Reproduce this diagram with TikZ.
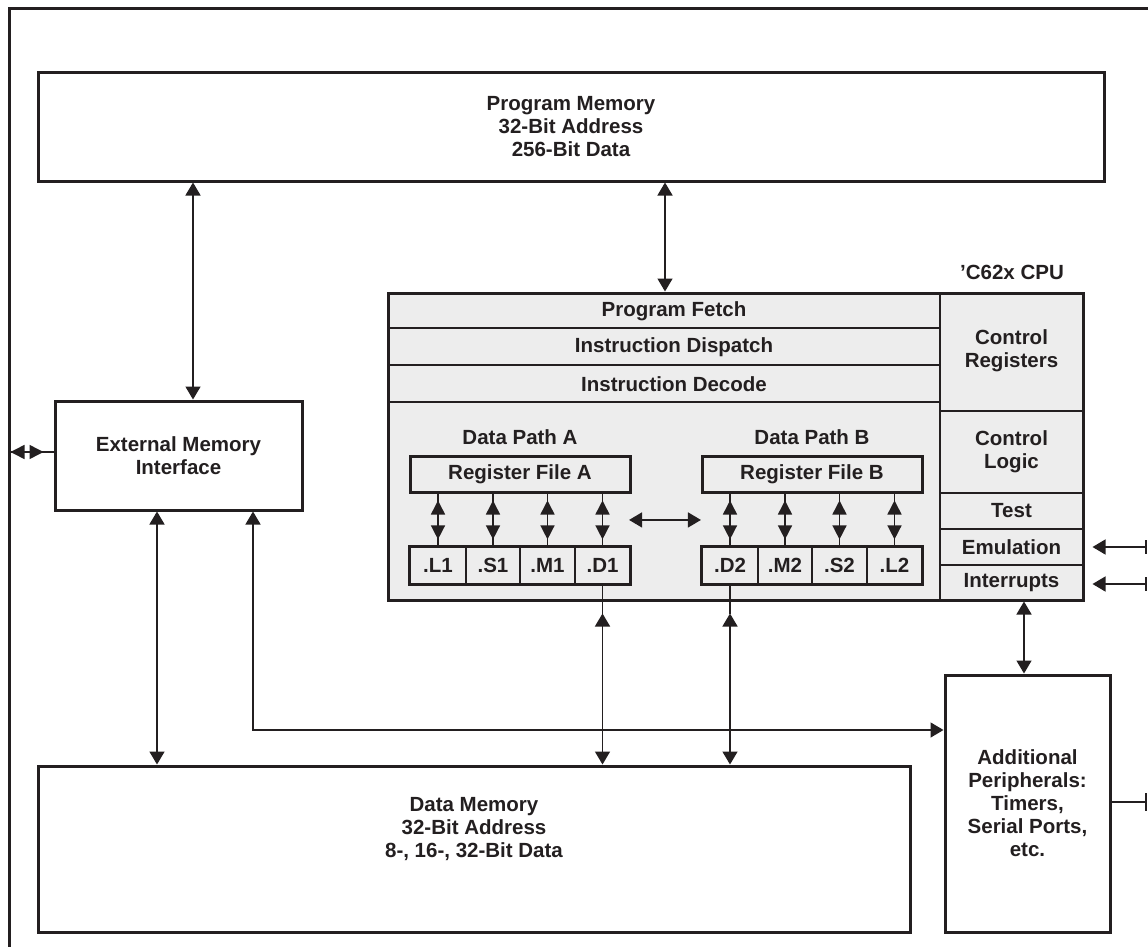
\documentclass[tikz,border=0pt]{standalone}
\usepackage{fontspec}
\setmainfont{Liberation Sans}
\usetikzlibrary{arrows.meta,calc}
\definecolor{ink}{HTML}{231F20}
\definecolor{cpufill}{HTML}{EDEDED}
\begin{document}
\begin{tikzpicture}[x=1pt,y=-1pt, line join=miter,
 txt/.style={font=\fontsize{20.5}{23}\selectfont\bfseries, text=ink, align=center, inner sep=0pt},
 box/.style={draw=ink, line width=3pt, inner sep=0pt, txt},
 cell/.style={draw=ink, line width=1.2pt, inner sep=0pt, txt, minimum height=37pt},
 divider/.style={draw=ink, line width=1.2pt},
 conn/.style={draw=ink, line width=1.5pt},
 tip/.style={-{Triangle[length=13pt,width=15pt]}},
 dbl/.style={{Triangle[length=13pt,width=15pt]}-{Triangle[length=13pt,width=15pt]}},
 sdbl/.style={{Triangle[length=14pt,width=14pt]}-{Triangle[length=14pt,width=14pt]}},
 tick/.style={draw=ink, line width=2pt}
]
\useasboundingbox (0,0) rectangle (1148,947);
\fill[white] (0,0) rectangle (1148,947);
\draw[ink, line width=3pt] (9,947) -- (9,9) -- (1148,9);

% main boxes
\node[box, minimum width=1066pt, minimum height=108pt] (PM) at (571,127) {Program Memory\\32-Bit Address\\256-Bit Data};
\node[box, minimum width=247pt, minimum height=109pt] (EMI) at (178.5,455.5) {External Memory\\Interface};
\node[box, fill=cpufill, minimum width=695pt, minimum height=307pt] (CPU) at (735.5,446.5) {};
\node[box, minimum width=872pt, minimum height=166pt] (DM) at (474,849) {};
\node[txt] (DMtext) at (474,829) {Data Memory\\32-Bit Address\\8-, 16-, 32-Bit Data};
\node[box, minimum width=165pt, minimum height=257pt] (AP) at (1027.5,803.5) {Additional\\Peripherals:\\Timers,\\Serial Ports,\\etc.};
\node[txt] (cpulabel) at (1012,272) {’C62x CPU};

% CPU internal dividers
\draw[divider] (940,293) -- (940,600);
\draw[divider] (388,328) -- (940,328);
\draw[divider] (388,365) -- (940,365);
\draw[divider] (388,402) -- (940,402);
\draw[divider] (940,411) -- (1083,411);
\draw[divider] (940,493) -- (1083,493);
\draw[divider] (940,529) -- (1083,529);
\draw[divider] (940,565) -- (1083,565);

\node[txt] (pf) at (674,311) {Program Fetch};
\node[txt] (idis) at (674,347) {Instruction Dispatch};
\node[txt] (idec) at (674,384) {Instruction Decode};
\node[txt] (creg) at (1011.5,351) {Control\\Registers};
\node[txt] (clog) at (1011.5,452) {Control\\Logic};
\node[txt] (test) at (1011.5,511) {Test};
\node[txt] (emu) at (1011.5,547) {Emulation};
\node[txt] (intr) at (1011.5,583) {Interrupts};

% data path A
\node[txt] (dpa) at (520,437) {Data Path A};
\node[box, fill=cpufill, minimum width=220pt, minimum height=36pt] (RFA) at (520,474) {Register File A};
\node[cell, minimum width=56pt] (L1) at (438,565.5) {.L1};
\node[cell, minimum width=54pt] (S1) at (493,565.5) {.S1};
\node[cell, minimum width=55pt] (M1) at (547.5,565.5) {.M1};
\node[cell, minimum width=55pt] (D1) at (602.5,565.5) {.D1};
\draw[ink, line width=3pt] (L1.north west) rectangle (D1.south east);

% data path B
\node[txt] (dpb) at (812,437) {Data Path B};
\node[box, fill=cpufill, minimum width=220pt, minimum height=36pt] (RFB) at (812,474) {Register File B};
\node[cell, minimum width=56pt] (D2) at (730,565.5) {.D2};
\node[cell, minimum width=54pt] (M2) at (785,565.5) {.M2};
\node[cell, minimum width=55pt] (S2) at (839.5,565.5) {.S2};
\node[cell, minimum width=55pt] (L2) at (894.5,565.5) {.L2};
\draw[ink, line width=3pt] (D2.north west) rectangle (L2.south east);

% register file <-> units
\foreach \u in {L1,S1,M1,D1} {
  \draw[conn] (\u.north) -- (\u.north |- RFA.south);
  \draw[conn, sdbl, shorten <=7pt, shorten >=7pt] (\u.north) -- (\u.north |- RFA.south);
}
\foreach \u in {D2,M2,S2,L2} {
  \draw[conn] (\u.north) -- (\u.north |- RFB.south);
  \draw[conn, sdbl, shorten <=7pt, shorten >=7pt] (\u.north) -- (\u.north |- RFB.south);
}
\coordinate (ab1) at ($(RFA.south east)!0.5!(D1.north east)$);
\coordinate (ab2) at ($(RFB.south west)!0.5!(D2.north west)$);
\draw[conn, dbl] ([xshift=-2pt]ab1) -- (ab2);

% .D1 / .D2 to data memory
\coordinate (d1top) at ($(D1.south |- CPU.south)+(0,12)$);
\coordinate (d2top) at ($(D2.south |- CPU.south)+(0,12)$);
\draw[conn] (D1.south) -- (d1top);
\draw[conn, dbl] (d1top) -- (D1.south |- DM.north);
\draw[conn] (D2.south) -- (d2top);
\draw[conn, dbl] (d2top) -- (D2.south |- DM.north);

% other connectors
\coordinate (pe) at (193,0);
\coordinate (pc) at (665,0);
\coordinate (ed) at (157,0);
\coordinate (ea) at (253,730);
\coordinate (ca) at (1024,0);
\draw[conn, dbl] (PM.south -| pe) -- (EMI.north -| pe);
\draw[conn, dbl] (PM.south -| pc) -- (CPU.north -| pc);
\draw[conn, dbl] (EMI.south -| ed) -- (DM.north -| ed);
\draw[conn, dbl] (EMI.south -| ea) |- (AP.west |- ea);
\draw[conn, dbl] (CPU.south -| ca) -- (AP.north -| ca);

% left edge
\coordinate (fl) at (10.5,452);
\draw[conn] (fl) -- (EMI.west |- fl);
\draw[conn, sdbl, shorten >=10pt] (fl) -- (EMI.west |- fl);

% right edge
\coordinate (re) at (1146,547);
\coordinate (ri) at (1146,584);
\coordinate (ra) at (1146,802);
\draw[conn, tip, shorten >=8pt] (re) -- (CPU.east |- re);
\draw[conn, tip, shorten >=8pt] (ri) -- (CPU.east |- ri);
\draw[conn] (AP.east |- ra) -- (ra);
\draw[tick] ([yshift=7pt]re) -- ([yshift=-7pt]re);
\draw[tick] ([yshift=7pt]ri) -- ([yshift=-7pt]ri);
\draw[tick] ([yshift=9pt]ra) -- ([yshift=-9pt]ra);
\end{tikzpicture}
\end{document}
